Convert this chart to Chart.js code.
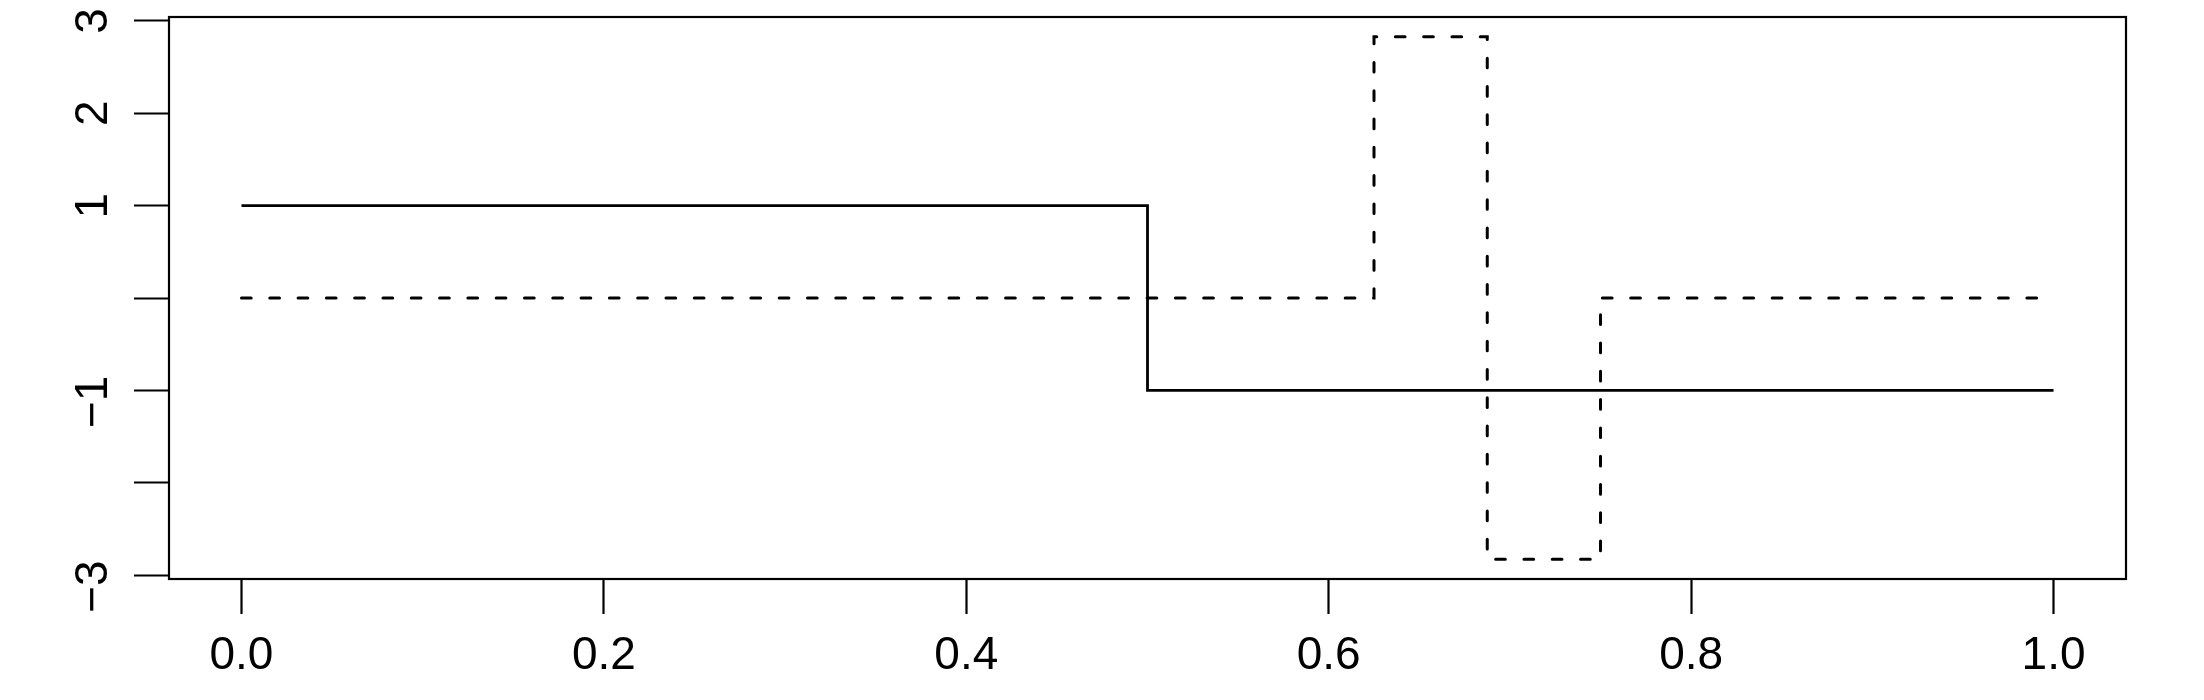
<!DOCTYPE html>
<html><head><meta charset="utf-8">
<script src="https://cdn.jsdelivr.net/npm/chart.js@4/dist/chart.umd.min.js"></script>
<style>html,body{margin:0;padding:0;background:#fff;}</style>
</head><body>
<canvas id="c" width="2204" height="700"></canvas>
<script>
// Haar mother wavelet (solid) and a level-3 Haar wavelet (dashed)
const haarX = [0, 0.5, 1];
const haarY = [1, -1, -1];
const waveX = [0, 0.625, 0.6875, 0.75, 1];
const waveY = [0, 2.828, -2.828, 0, 0];
const xTicks = [0, 0.2, 0.4, 0.6, 0.8, 1.0];
const xTickLabels = ['0.0', '0.2', '0.4', '0.6', '0.8', '1.0'];
const yTicks = [-3, -2, -1, 0, 1, 2, 3];
const yTickLabels = ['\u22123\u2002', '', '\u22121\u2002', '', '1', '2', '3'];

const toPts = (xs, ys) => xs.map((x, i) => ({x: x, y: ys[i]}));
const FONT = {family: '"Liberation Sans", Arial, Helvetica, sans-serif', size: 46};

const frame = {
  id: 'frame',
  afterDraw(chart) {
    const {ctx, chartArea: a} = chart;
    ctx.save();
    ctx.strokeStyle = '#000';
    ctx.lineWidth = 2.2;
    ctx.strokeRect(a.left, a.top, a.right - a.left, a.bottom - a.top);
    ctx.restore();
  }
};

new Chart(document.getElementById('c'), {
  type: 'line',
  data: {
    datasets: [
      {data: toPts(haarX, haarY), borderColor: '#000', borderWidth: 2.8, stepped: 'before', pointRadius: 0, fill: false},
      {data: toPts(waveX, waveY), borderColor: '#000', borderWidth: 3, borderDash: [9.7, 18.6], borderCapStyle: 'round',
       stepped: 'before', pointRadius: 0, fill: false}
    ]
  },
  options: {
    responsive: false,
    devicePixelRatio: 1,
    animation: false,
    layout: {padding: {top: 17, right: 78, left: 0, bottom: 0}},
    plugins: {legend: {display: false}, tooltip: {enabled: false}},
    scales: {
      x: {
        type: 'linear', position: 'bottom', min: -0.04, max: 1.04,
        afterBuildTicks: s => { s.ticks = xTicks.map(v => ({value: v})); },
        afterFit: s => { s.height = 121; s.paddingLeft = 0; s.paddingRight = 0; },
        ticks: {autoSkip: false, maxRotation: 0, minRotation: 0, padding: 15, color: '#000', font: FONT,
                callback: (v, i) => xTickLabels[i]},
        grid: {drawOnChartArea: false, drawTicks: true, tickLength: 35, tickWidth: 2.2, tickColor: '#000', color: '#000'},
        border: {display: false}
      },
      y: {
        type: 'linear', position: 'left', min: -3.043, max: 3.043,
        afterBuildTicks: s => { s.ticks = yTicks.map(v => ({value: v})); },
        afterFit: s => { s.width = 169; s.paddingTop = 0; s.paddingBottom = 0; },
        ticks: {autoSkip: false, minRotation: 90, maxRotation: 90, crossAlign: 'center', padding: 2, color: '#000', font: FONT,
                callback: (v, i) => yTickLabels[i]},
        grid: {drawOnChartArea: false, drawTicks: true, tickLength: 35, tickWidth: 2.2, tickColor: '#000', color: '#000'},
        border: {display: false}
      }
    }
  },
  plugins: [frame]
});
</script>
</body></html>
